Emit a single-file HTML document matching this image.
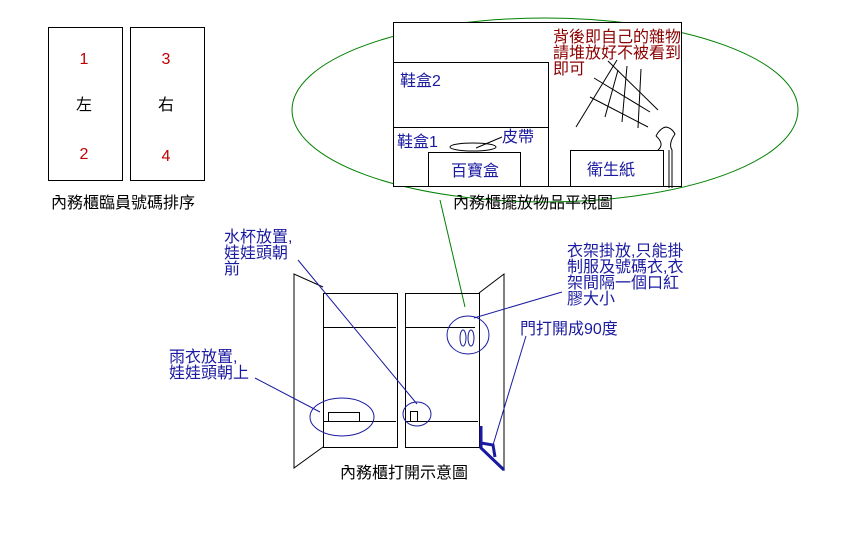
<!DOCTYPE html>
<html><head><meta charset="utf-8"><style>
html,body{margin:0;padding:0;background:#fff;}
svg{display:block;}
text{font-family:"Liberation Sans","Noto Sans CJK TC","WenQuanYi Zen Hei",sans-serif;font-size:16px;}
</style></head><body>
<svg width="854" height="536" viewBox="0 0 854 536" xmlns="http://www.w3.org/2000/svg">
<g fill="none" stroke="#000" stroke-width="1">
<rect x="48.5" y="27.5" width="74" height="153"/>
<rect x="130.5" y="27.5" width="74" height="153"/>
</g>
<g fill="#c00000" text-anchor="middle" font-size="15">
<text x="84" y="64" font-size="15">1</text><text x="84" y="159" font-size="15">2</text>
<text x="166" y="64" font-size="15">3</text><text x="166" y="161" font-size="15">4</text>
</g>
<text x="84" y="110" text-anchor="middle" font-size="15">左</text>
<text x="166" y="110" text-anchor="middle" font-size="15">右</text>
<text x="51" y="208" font-size="15">內務櫃臨員號碼排序</text>

<ellipse cx="545" cy="110" rx="253" ry="92" fill="none" stroke="#008000"/>
<g fill="none" stroke="#000">
<rect x="393.5" y="22.5" width="288" height="164" fill="#fff"/>
<polyline points="393.5,62.5 548.5,62.5 548.5,186"/>
<line x1="393" y1="127.5" x2="548" y2="127.5"/>
<rect x="428.5" y="152.5" width="92" height="34"/>
<rect x="570.5" y="150.5" width="93" height="36"/>
<ellipse cx="473" cy="147" rx="23" ry="4"/>
<line x1="502" y1="137" x2="476" y2="148"/>
<line x1="608" y1="61" x2="658" y2="110"/>
<line x1="594" y1="78" x2="650" y2="112"/>
<line x1="590" y1="97" x2="648" y2="127"/>
<line x1="617" y1="60" x2="576" y2="127"/>
<line x1="618" y1="70" x2="605" y2="117"/>
<line x1="627" y1="66" x2="622" y2="122"/>
<line x1="641" y1="69" x2="638" y2="128"/>
<path d="M656 136 Q660 128 666 127 Q672 128 675 134 Q668 144 672 150 L672 188 M656 136 Q665 144 658 150"/>
<line x1="669" y1="150" x2="669" y2="188"/>
</g>
<g fill="#1a1aa0">
<text x="400" y="86">鞋盒2</text>
<text x="397" y="147">鞋盒1</text>
<text x="502" y="142">皮帶</text>
<text x="451" y="176">百寶盒</text>
<text x="587" y="175">衛生紙</text>
</g>
<g fill="#8b0000">
<text x="553" y="42">背後即自己的雜物</text>
<text x="553" y="58">請堆放好不被看到</text>
<text x="553" y="74">即可</text>
</g>
<text x="453" y="208" font-size="15">內務櫃擺放物品平視圖</text>

<line x1="440" y1="200" x2="465" y2="307" stroke="#008000"/>

<g fill="none" stroke="#000">
<polyline points="323,287 294,274 294,468 323,447"/>
<rect x="323.5" y="293.5" width="74" height="154"/>
<rect x="405.5" y="293.5" width="74" height="154"/>
<polyline points="479,293 504,274 504,470 479,447"/>
<line x1="324" y1="327.5" x2="396" y2="327.5"/>
<line x1="406" y1="327.5" x2="475" y2="327.5"/>
<line x1="324" y1="421.5" x2="396" y2="421.5"/>
<line x1="406" y1="421.5" x2="478" y2="421.5"/>
<rect x="328.5" y="412.5" width="31" height="9"/>
<rect x="410.5" y="411.5" width="7" height="10"/>
</g>
<g fill="none" stroke="#1a1aa0">
<ellipse cx="342" cy="417" rx="32" ry="19"/>
<ellipse cx="417" cy="414" rx="14" ry="12"/>
<ellipse cx="468" cy="335" rx="21" ry="19"/>
<ellipse cx="463" cy="338" rx="3" ry="8"/>
<ellipse cx="471" cy="338" rx="3" ry="8"/>
<line x1="298" y1="260" x2="417" y2="404"/>
<line x1="255" y1="378" x2="320" y2="412"/>
<line x1="562" y1="292" x2="474" y2="318"/>
<line x1="526" y1="336" x2="493" y2="445"/>
<polyline points="481,426 481,448 504,470" stroke-width="3"/>
<polyline points="481,443 493,445 495,457" stroke-width="3"/>
</g>
<g fill="#1a1aa0">
<text x="224" y="242">水杯放置,</text>
<text x="224" y="258">娃娃頭朝</text>
<text x="224" y="274">前</text>
<text x="169" y="362">雨衣放置,</text>
<text x="169" y="378">娃娃頭朝上</text>
<text x="567" y="256">衣架掛放,只能掛</text>
<text x="567" y="272">制服及號碼衣,衣</text>
<text x="567" y="288">架間隔一個口紅</text>
<text x="567" y="304">膠大小</text>
<text x="520" y="334">門打開成90度</text>
</g>
<text x="340" y="478" font-size="15">內務櫃打開示意圖</text>
</svg>
</body></html>
